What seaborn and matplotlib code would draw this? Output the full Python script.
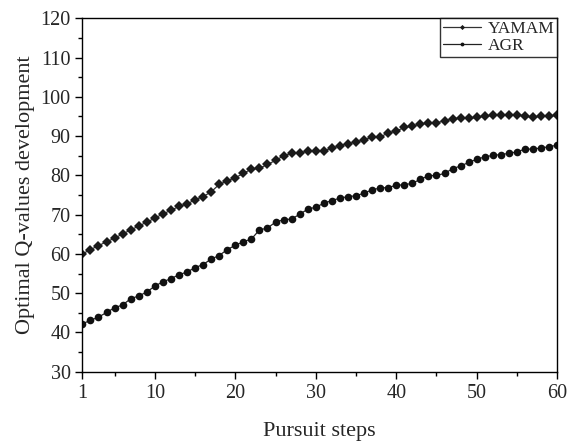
import seaborn as sns
import matplotlib.pyplot as plt
import pandas as pd
from matplotlib.ticker import MultipleLocator, FixedLocator

sns.set_style("ticks")
plt.rcParams['font.family'] = ['Liberation Serif', 'DejaVu Serif']

# pursuit steps 1..60
steps = list(range(1, 61))

# values
yamam = [60.0, 61.1, 62.1, 63.1, 64.0, 65.1, 66.1, 67.1, 68.1, 69.1,
         70.2, 71.1, 72.1, 72.7, 73.8, 74.6, 75.8, 77.7, 78.6, 79.4,
         80.5, 81.6, 81.8, 82.8, 83.8, 85.0, 85.6, 85.8, 86.1, 86.1,
         86.3, 86.9, 87.6, 88.1, 88.5, 89.1, 89.7, 89.8, 90.8, 91.3,
         92.2, 92.6, 93.0, 93.4, 93.4, 93.9, 94.4, 94.6, 94.5, 94.8,
         95.1, 95.3, 95.5, 95.3, 95.5, 95.1, 94.8, 95.1, 95.1, 95.3]
agr = [42.2, 43.1, 43.9, 45.1, 46.3, 47.0, 48.6, 49.3, 50.3, 51.8,
       52.9, 53.7, 54.7, 55.4, 56.5, 57.3, 58.7, 59.6, 61.1, 62.2,
       63.1, 63.8, 66.1, 66.6, 68.1, 68.7, 68.9, 70.1, 71.4, 71.9,
       72.9, 73.6, 74.2, 74.6, 74.8, 75.5, 76.3, 76.8, 76.9, 77.5,
       77.6, 78.0, 79.0, 79.9, 80.0, 80.5, 81.7, 82.4, 83.3, 84.1,
       84.7, 85.1, 85.3, 85.6, 86.0, 86.7, 86.7, 87.0, 87.3, 87.7]

data = pd.DataFrame({"step": steps, "YAMAM": yamam, "AGR": agr})

fig = plt.figure(figsize=(5.68, 4.41), dpi=100)
ax = fig.add_axes([0.145, 0.157, 0.836, 0.8015])

# upper curve with diamonds, lower curve with round markers
sns.lineplot(x="step", y="YAMAM", data=data, ax=ax, color="#333333", lw=0.9,
             marker="D", markersize=5.2, markeredgewidth=0,
             markerfacecolor="#1a1a1a", label="YAMAM")
sns.lineplot(x="step", y="AGR", data=data, ax=ax, color="#222222", lw=0.9,
             marker="o", markersize=5.5, markeredgewidth=0,
             markerfacecolor="#111111", label="AGR")

ax.set_xlim(1, 60)
ax.set_ylim(30, 120)
ax.xaxis.set_major_locator(FixedLocator([1, 10, 20, 30, 40, 50, 60]))
ax.xaxis.set_minor_locator(FixedLocator([5, 15, 25, 35, 45, 55]))
ax.yaxis.set_major_locator(MultipleLocator(10))
ax.yaxis.set_minor_locator(MultipleLocator(5))
ax.tick_params(which="major", direction="out", length=5, width=1, labelsize=14.5, color="black")
ax.tick_params(which="minor", direction="out", length=3, width=1, color="black")
for s in ax.spines.values():
    s.set_color("black")
    s.set_linewidth(1)

ax.set_xlabel("Pursuit steps", fontsize=16, labelpad=14)
ax.set_ylabel("Optimal Q-values development", fontsize=16, labelpad=4)

leg = ax.legend(loc="upper right", fontsize=12.5, frameon=True, fancybox=False,
                borderaxespad=0, borderpad=0.15, handlelength=2.2, handletextpad=0.4,
                labelspacing=0.05, markerscale=0.5)
leg.get_frame().set_edgecolor("black")
leg.get_frame().set_linewidth(1)

fig.savefig("out.png", dpi=100)
